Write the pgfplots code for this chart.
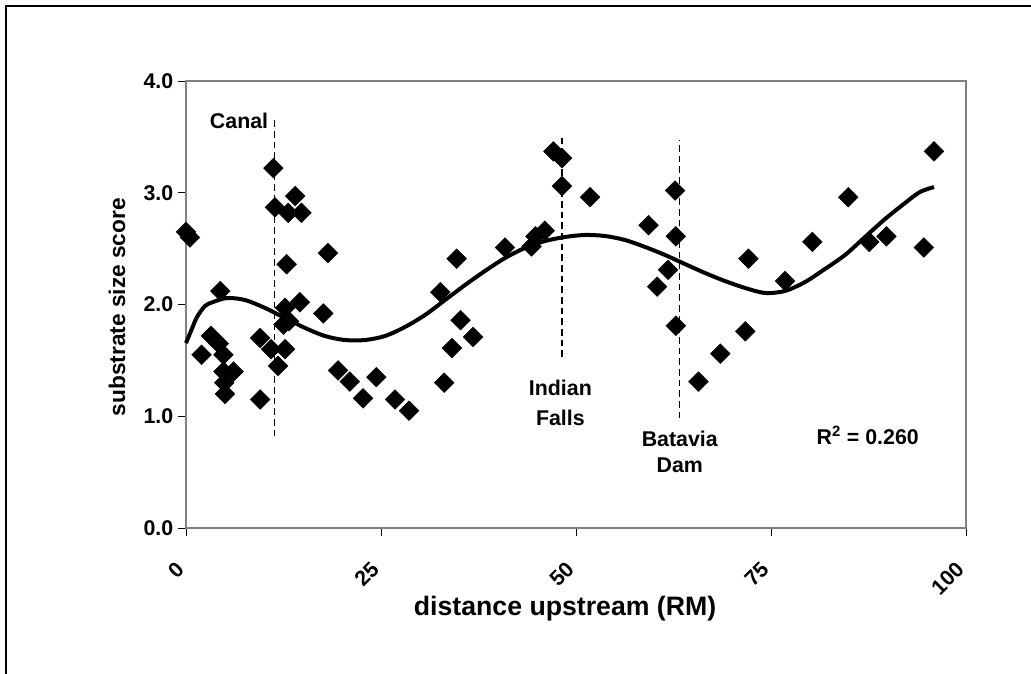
\documentclass[border=0pt]{standalone}
\usepackage{fontspec}
\setmainfont{Liberation Sans}
\usepackage{pgfplots}
\pgfplotsset{compat=1.18}
\definecolor{axgray}{RGB}{128,128,128}
\begin{document}
\begin{tikzpicture}[x=0.75pt,y=0.75pt]
\useasboundingbox (0,0) rectangle (1031,674);
\draw[line width=1.1pt] (6,-10) -- (6,668) -- (1045,668);
\begin{axis}[
  at={(139.5pt,109.5pt)}, anchor=south west,
  scale only axis, width=585pt, height=335.25pt,
  xmin=0, xmax=100, ymin=0, ymax=4,
  xtick={0,25,50,75,100}, ytick={0,1,2,3,4},
  axis line style={axgray, line width=1.5pt},
  tick align=outside, xtick pos=bottom, ytick pos=left,
  major tick length=6pt,
  tick style={black, line width=0.6pt},
  /pgf/number format/assume math mode=true,
  yticklabel={\pgfmathprintnumber[fixed,fixed zerofill,precision=1]{\tick}},
  yticklabel style={font=\fontsize{16}{19}\selectfont\bfseries},
  xticklabel style={font=\fontsize{16}{19}\selectfont\bfseries, yshift=-20pt, xshift=-2pt, rotate=45, anchor=east},
  xlabel={distance upstream (RM)},
  ylabel={substrate size score},
  xlabel style={font=\fontsize{20}{24}\selectfont\bfseries, at={(axis description cs:0.486,-0.181)}, anchor=center},
  ylabel style={font=\fontsize{17}{20}\selectfont\bfseries, at={(axis description cs:-0.0885,0.494)}, anchor=center},
  clip=false,
]
\addplot[black, line width=0.9pt, dash pattern=on 5pt off 3pt] coordinates {(11.3,0.82) (11.3,3.67)};
\addplot[black, line width=0.9pt, dash pattern=on 5pt off 3pt] coordinates {(48.2,1.53) (48.2,3.49)};
\addplot[black, line width=0.9pt, dash pattern=on 5pt off 3pt] coordinates {(63.3,0.98) (63.3,3.47)};
\addplot[only marks, mark=square*, mark size=5.2pt, mark options={rotate=45, fill=black, draw=black}] coordinates {
(0.0,2.65) (0.5,2.60) (2.0,1.55) (3.2,1.72) (4.4,2.12) (4.2,1.65) (4.8,1.55) (4.8,1.40) (6.1,1.40)
(4.9,1.30) (5.0,1.20) (9.5,1.70) (9.5,1.15) (10.9,1.60) (12.7,1.60) (11.8,1.45)
(11.2,3.22) (11.4,2.87) (14.0,2.97) (13.1,2.82) (14.8,2.82) (12.9,2.36) (18.2,2.46)
(14.6,2.02) (12.7,1.97) (17.6,1.92) (12.5,1.82) (13.2,1.85)
(19.5,1.41) (21.0,1.31) (22.7,1.16) (24.4,1.35) (26.8,1.15) (28.6,1.05)
(32.6,2.11) (33.1,1.30) (34.1,1.61) (34.7,2.41) (35.2,1.86) (36.8,1.71)
(40.9,2.51) (44.3,2.52) (44.8,2.61) (46.0,2.66)
(47.1,3.37) (48.2,3.31) (48.2,3.06) (51.8,2.96)
(59.3,2.71) (60.4,2.16) (61.8,2.31) (62.7,3.02) (62.8,2.61) (62.8,1.81)
(65.7,1.31) (68.5,1.56) (71.7,1.76) (72.1,2.41) (76.8,2.21)
(80.3,2.56) (84.9,2.96) (87.6,2.56) (89.8,2.61) (94.6,2.51) (95.9,3.37)
};
\addplot[black, line width=3pt, smooth, tension=0.5] coordinates {
(0,1.655) (0.64,1.763) (1.41,1.888) (2.44,1.987) (3.46,2.022) (5.26,2.058) (7.56,2.040)
(10.13,1.969) (12.69,1.879) (15.26,1.790) (17.82,1.718) (20.38,1.682) (22.95,1.682)
(25.51,1.718) (28.08,1.799) (30.64,1.906) (33.21,2.040) (35.77,2.174) (38.33,2.300)
(40.90,2.416) (43.46,2.506) (46.03,2.568) (48.59,2.604) (51.15,2.622) (53.72,2.613)
(56.28,2.577) (58.85,2.515) (61.41,2.443) (63.97,2.362) (66.54,2.282) (69.10,2.210)
(71.67,2.148) (74.23,2.103) (76.79,2.121) (79.36,2.201) (81.92,2.318) (84.49,2.443)
(87.05,2.604) (89.62,2.765) (92.18,2.908) (94.10,3.007) (95.90,3.051)
};
\node[font=\fontsize{16}{20}\selectfont\bfseries] at (axis cs:6.8,3.64) {Canal};
\node[font=\fontsize{16}{22.5}\selectfont\bfseries, align=center] at (axis cs:48.0,1.12) {Indian\\Falls};
\node[font=\fontsize{16}{20}\selectfont\bfseries, align=center] at (axis cs:63.3,0.68) {Batavia\\Dam};
\node[font=\fontsize{16}{20}\selectfont\bfseries] at (axis cs:87.4,0.83) {R\textsuperscript{2} = 0.260};
\end{axis}
\end{tikzpicture}
\end{document}
